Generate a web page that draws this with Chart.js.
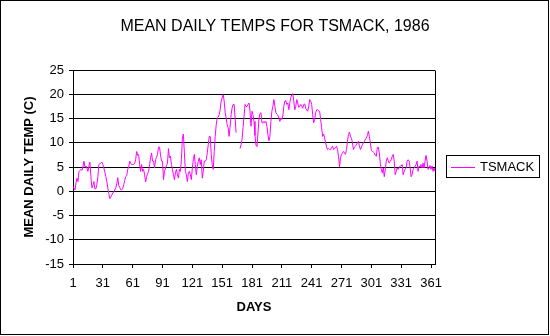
<!DOCTYPE html>
<html>
<head>
<meta charset="utf-8">
<title>Mean daily temps for TSMACK, 1986</title>
<script src="https://cdn.jsdelivr.net/npm/chart.js@4/dist/chart.umd.min.js"></script>
<style>
	html, body { margin: 0; padding: 0; background: #fff; }
	#wrap { position: relative; width: 550px; height: 336px; }
</style>
</head>
<body>
<div id="wrap"><canvas id="tempChart" width="550" height="336"></canvas></div>
<script>
// Mean daily temperature (C), day 1 .. 365; null = missing day
var temps = [
	1.0, 1.0, 0.3, 1.7, 2.7, 2.0, 4.1, 4.3, 4.5, 4.3,
	5.0, 6.2, 5.0, 5.2, 4.8, 4.1, 5.2, 6.0, 3.0, 0.7,
	1.2, 2.0, 0.5, 0.5, 1.4, 3.0, 5.5, 5.7, 5.8, 6.0,
	5.5, 4.8, 4.0, 3.0, 2.0, 0.7, -0.5, -1.5, -1.2, -0.8,
	-0.3, -0.2, 0.3, 0.7, 1.5, 2.8, 1.2, 0.8, 0.3, 0.3,
	0.5, 1.4, 2.2, 3.0, 3.2, 4.5, 5.0, 6.2, 5.8, 5.5,
	5.5, 5.5, 5.8, 6.5, 8.2, 7.4, 7.6, 5.5, 4.1, 5.5,
	4.1, 4.5, 3.4, 1.9, 3.0, 3.6, 4.1, 5.5, 6.9, 7.9,
	6.2, 6.2, 4.8, 6.5, 7.0, 7.6, 9.1, 9.1, 7.5, 6.2,
	6.2, 2.4, 4.1, 4.8, 5.3, 5.8, 8.8, 6.9, 7.2, 5.5,
	4.5, 3.4, 2.4, 3.8, 4.5, 3.4, 2.7, 4.5, 4.1, 6.5,
	11.0, 11.8, 7.9, 4.1, 3.4, 2.0, 3.8, 4.1, 3.4, 2.4,
	4.8, 6.5, 7.6, 5.5, 3.4, 5.1, 6.2, 6.9, 5.5, 6.5,
	2.7, 4.1, 6.2, 6.2, 6.5, 7.9, 9.6, 11.3, 11.3, 7.6,
	5.5, 4.5, 8.2, 11.3, 13.7, 15.1, 15.3, 15.8, 16.8, 18.6,
	19.3, 19.9, 18.6, 16.2, 15.1, 13.7, 13.1, 11.3, 13.4, 15.8,
	17.2, 17.9, 17.9, 15.1, 12.1, null, null, null, 8.8, 9.6,
	10.7, 13.1, 15.5, 17.9, 17.5, 17.5, 17.9, 18.2, 16.5, 13.4,
	16.5, 15.8, 14.4, 11.5, 9.5, 9.2, 12.0, 15.0, 16.0, 16.2,
	14.1, 14.1, 14.4, 14.1, 14.4, 13.4, 11.7, 10.4, 11.3, 14.4,
	16.5, 17.5, 18.9, 17.5, 16.2, 15.9, 15.7, 15.1, 14.4, 15.1,
	14.8, 15.5, 17.5, 18.6, 18.7, 17.9, 18.2, 16.8, 18.2, 19.3,
	19.9, 20.1, 18.6, 16.8, 17.5, 18.9, 18.2, 17.3, 17.5, 17.9,
	17.5, 17.1, 17.9, 18.0, 17.1, 16.8, 16.5, 17.5, 18.9, 18.6,
	17.9, 15.8, 14.1, 14.8, 16.2, 16.8, 16.8, 16.6, 16.5, 14.8,
	13.1, 11.3, 11.8, 11.0, 10.0, 9.1, 8.6, 8.8, 8.6, 8.6,
	9.0, 9.3, 8.6, 8.8, 9.1, 9.3, 8.6, 7.2, 5.0, 6.9,
	7.6, 7.9, 8.2, 7.9, 7.6, 8.6, 10.3, 11.7, 12.2, 11.3,
	10.9, 10.0, 8.6, 9.1, 9.3, 9.6, 10.0, 10.3, 9.3, 8.6,
	9.1, 9.6, 10.0, 10.3, 10.7, 11.0, 11.5, 12.4, 11.3, 10.0,
	8.4, 8.2, 8.1, 7.9, 7.4, 7.2, 9.0, 9.1, 7.9, 5.8,
	4.5, 3.8, 4.8, 3.0, 4.5, 6.2, 6.9, 6.3, 5.8, 6.2,
	6.5, 7.2, 7.6, 6.2, 3.4, 4.1, 4.8, 4.5, 5.0, 5.2,
	5.2, 5.5, 3.4, 4.1, 4.5, 4.8, 6.2, 6.5, 6.2, 4.8,
	3.0, 3.4, 4.5, 4.8, 5.2, 5.5, 6.2, 4.1, 5.2, 5.0,
	5.5, 4.8, 5.8, 4.8, 6.2, 7.4, 6.2, 4.5, 4.8, 5.3,
	4.5, 5.2, 4.1, 4.8, 4.1
];

var dayTicks = [ 1, 31, 61, 91, 121, 151, 181, 211, 241, 271, 301, 331, 361 ];
var tempTicks = [ -15, -10, -5, 0, 5, 10, 15, 20, 25 ];
var seriesName = 'TSMACK';
var chartTitle = 'MEAN DAILY TEMPS FOR TSMACK, 1986';
var lineColor = '#ff00ff';
var fontFamily = '"Liberation Sans", Arial, sans-serif';

// day number for each reading (1-based)
var points = temps.map( function( t, i ) {
	return { x: i + 1, y: t };
} );

// title, outer frame, right edge of plot area and boxed legend
var framePlugin = {
	id: 'frame',
	afterDraw: function( chart ) {
		var ctx = chart.ctx;
		var area = chart.chartArea;
		var r = Math.round( area.right ) + 0.5;

		ctx.save();
		ctx.fillStyle = '#000';
		ctx.font = '16px ' + fontFamily;
		ctx.textAlign = 'center';
		ctx.textBaseline = 'middle';
		ctx.fillText( chartTitle, 275, 27 );

		ctx.strokeStyle = '#000';
		ctx.lineWidth = 1;

		ctx.beginPath();
		ctx.moveTo( r, Math.round( area.top ) + 0.5 );
		ctx.lineTo( r, Math.round( area.bottom ) + 0.5 );
		ctx.stroke();

		ctx.strokeRect( 0.5, 0.5, 548, 334 );

		// legend
		ctx.strokeRect( 446.5, 155.5, 93, 22 );
		ctx.strokeStyle = lineColor;
		ctx.beginPath();
		ctx.moveTo( 451, 167.5 );
		ctx.lineTo( 475, 167.5 );
		ctx.stroke();
		ctx.font = '13px ' + fontFamily;
		ctx.textAlign = 'left';
		ctx.fillText( seriesName, 480, 167 );
		ctx.restore();
	}
};

new Chart( document.getElementById( 'tempChart' ), {
	type: 'line',
	data: {
		datasets: [ {
			label: seriesName,
			data: points,
			borderColor: lineColor,
			backgroundColor: lineColor,
			borderWidth: 1,
			pointRadius: 0,
			tension: 0,
			spanGaps: false
		} ]
	},
	plugins: [ framePlugin ],
	options: {
		responsive: false,
		animation: false,
		events: [],
		layout: {
			padding: { top: 70, left: 0, right: 115, bottom: 0 }
		},
		plugins: {
			legend: { display: false },
			tooltip: { enabled: false },
			title: { display: false }
		},
		scales: {
			x: {
				type: 'linear',
				min: 1,
				max: 365,
				afterBuildTicks: function( scale ) {
					scale.ticks = dayTicks.map( function( d ) {
						return { value: d };
					} );
				},
				afterFit: function( scale ) {
					scale.height = 72;
				},
				ticks: {
					color: '#000',
					font: { family: fontFamily, size: 13 },
					padding: 8,
					maxRotation: 0,
					autoSkip: false
				},
				grid: {
					drawOnChartArea: false,
					drawTicks: true,
					tickLength: 4,
					color: '#000',
					lineWidth: 1
				},
				border: { display: true, color: '#000', width: 1 },
				title: {
					display: true,
					text: 'DAYS',
					color: '#000',
					font: { family: fontFamily, size: 13, weight: 'bold' },
					padding: { top: 0, bottom: 21 }
				}
			},
			y: {
				min: -15,
				max: 25,
				afterBuildTicks: function( scale ) {
					scale.ticks = tempTicks.map( function( v ) {
						return { value: v };
					} );
				},
				afterFit: function( scale ) {
					scale.width = 73;
				},
				ticks: {
					color: '#000',
					font: { family: fontFamily, size: 13 },
					padding: 5
				},
				grid: {
					drawOnChartArea: true,
					drawTicks: true,
					tickLength: 4,
					color: '#000',
					lineWidth: 1
				},
				border: { display: true, color: '#000', width: 1 },
				title: {
					display: true,
					text: 'MEAN DAILY TEMP (C)',
					color: '#000',
					font: { family: fontFamily, size: 13, weight: 'bold' },
					padding: { top: 22, bottom: 0 }
				}
			}
		}
	}
} );
</script>
</body>
</html>
